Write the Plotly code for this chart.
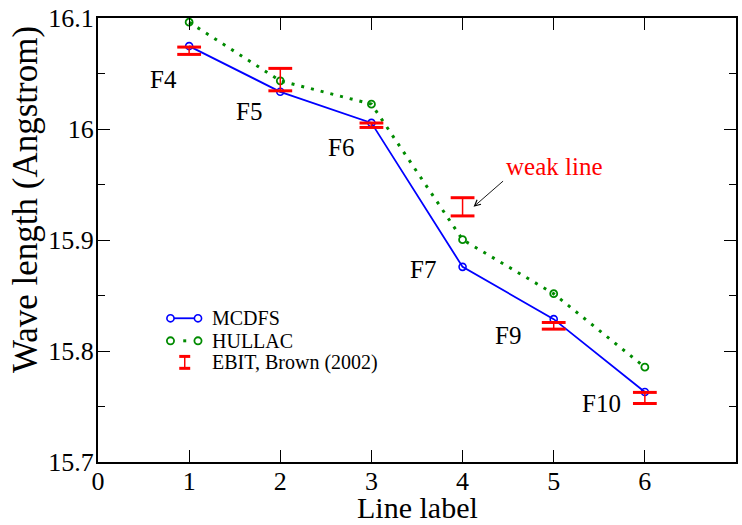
import plotly.graph_objects as go

# ---------------- data ----------------
line_label = [1, 2, 3, 4, 5, 6]
mcdfs = [16.0747, 16.0335, 16.0055, 15.8758, 15.8287, 15.7630]
hullac = [16.0962, 16.0434, 16.0224, 15.9003, 15.8516, 15.7854]
ebit = [16.0705, 16.0445, 16.0034, 15.9299, 15.8227, 15.7577]
ebit_err = [0.0033, 0.0101, 0.0020, 0.0082, 0.0030, 0.0050]
point_names = ["F4", "F5", "F6", "F7", "F9", "F10"]

x_range = [0, 7]
y_range = [15.7, 16.1]

# ---------------- layout helpers ----------------
W, H = 742, 525
ML, MR, MT, MB = 98, 4, 15, 63
PW, PH = W - ML - MR, H - MT - MB
FONT = "Liberation Serif, serif"
BLUE, GREEN, RED = "#0000ff", "#008b00", "#ff0000"


def fx(xp):
    return (xp - ML) / PW


def fy(yp):
    return (H - MB - yp) / PH


fig = go.Figure()

fig.add_trace(go.Scatter(
    x=line_label, y=mcdfs, mode="lines+markers", name="MCDFS",
    line=dict(color=BLUE, width=1.8),
    marker=dict(symbol="circle-open", size=7, color=BLUE, line=dict(width=1.6)),
    cliponaxis=False, showlegend=False))

fig.add_trace(go.Scatter(
    x=line_label, y=hullac, mode="lines+markers", name="HULLAC",
    line=dict(color=GREEN, width=3, dash="3px,7px"),
    marker=dict(symbol="circle-open", size=7, color=GREEN, line=dict(width=1.8)),
    cliponaxis=False, showlegend=False))

# error bar stems
fig.add_trace(go.Scatter(
    x=line_label, y=ebit, mode="markers", name="EBIT, Brown (2002)",
    marker=dict(size=1, color=RED, opacity=0),
    error_y=dict(type="data", array=ebit_err, visible=True, color=RED,
                 thickness=1.5, width=0),
    cliponaxis=False, showlegend=False))
# error bar caps
caps_y = [v + e for v, e in zip(ebit, ebit_err)] + [v - e for v, e in zip(ebit, ebit_err)]
fig.add_trace(go.Scatter(
    x=line_label + line_label, y=caps_y, mode="markers",
    marker=dict(symbol="line-ew", size=17, line=dict(color=RED, width=3)),
    cliponaxis=False, showlegend=False, hoverinfo="skip"))

annotations = []
# point labels, offset from the MCDFS points
label_offsets = [(-26, -33), (-31, -20), (-30, -25), (-40, -3), (-46, -16), (-43, -11)]
for xv, yv, name, (dx, dy) in zip(line_label, mcdfs, point_names, label_offsets):
    annotations.append(dict(x=xv, y=yv, xref="x", yref="y", text=name, showarrow=False,
                            xshift=dx, yshift=dy, xanchor="center", yanchor="middle",
                            font=dict(family=FONT, size=25, color="black")))

# weak line annotation
annotations.append(dict(x=fx(555), y=fy(165), xref="paper", yref="paper", text="weak line",
                        showarrow=False, xanchor="center", yanchor="middle",
                        font=dict(family=FONT, size=25, color=RED)))
annotations.append(dict(x=line_label[3], y=ebit[3], xref="x", yref="y", text="",
                        xshift=11, showarrow=True, ax=31, ay=-27,
                        arrowhead=5, arrowsize=1.3, arrowwidth=0.9, arrowcolor="black"))

# axis titles
annotations.append(dict(x=fx(418), y=fy(508), xref="paper", yref="paper", text="Line label",
                        showarrow=False, xanchor="center", yanchor="middle",
                        font=dict(family=FONT, size=30, color="black")))
annotations.append(dict(x=fx(26), y=fy(198), xref="paper", yref="paper",
                        text="Wave length (Angstrom)", textangle=-90,
                        showarrow=False, xanchor="center", yanchor="middle",
                        font=dict(family=FONT, size=35, color="black")))

# legend
legend_rows = [("MCDFS", 317.3), ("HULLAC", 340.0), ("EBIT, Brown (2002)", 361.7)]
shapes = []
lx0, lx1, lxm = 170.7, 198.3, 185.0
r = 3.6
for text, yy in legend_rows:
    annotations.append(dict(x=fx(210), y=fy(yy), xref="paper", yref="paper", text=text,
                            showarrow=False, xanchor="left", yanchor="middle",
                            font=dict(family=FONT, size=20, color="black")))

yy = legend_rows[0][1]
shapes.append(dict(type="line", xref="paper", yref="paper", x0=fx(lx0), x1=fx(lx1),
                   y0=fy(yy), y1=fy(yy), line=dict(color=BLUE, width=1.8)))
for cx in (lx0, lx1):
    shapes.append(dict(type="circle", xref="paper", yref="paper", x0=fx(cx - r), x1=fx(cx + r),
                       y0=fy(yy + r), y1=fy(yy - r), fillcolor="white",
                       line=dict(color=BLUE, width=1.6)))
yy = legend_rows[1][1]
for cx in (lx0, lx1):
    shapes.append(dict(type="circle", xref="paper", yref="paper", x0=fx(cx - r), x1=fx(cx + r),
                       y0=fy(yy + r), y1=fy(yy - r), fillcolor="white",
                       line=dict(color=GREEN, width=1.8)))
shapes.append(dict(type="rect", xref="paper", yref="paper", x0=fx(lxm - 1.5), x1=fx(lxm + 1.5),
                   y0=fy(yy + 1.5), y1=fy(yy - 1.5), fillcolor=GREEN, line=dict(width=0)))
yy = legend_rows[2][1]
shapes.append(dict(type="line", xref="paper", yref="paper", x0=fx(lxm), x1=fx(lxm),
                   y0=fy(yy - 6), y1=fy(yy + 6), line=dict(color=RED, width=1.5)))
for dy in (-6, 6):
    shapes.append(dict(type="line", xref="paper", yref="paper", x0=fx(lxm - 5.5), x1=fx(lxm + 5.5),
                       y0=fy(yy + dy), y1=fy(yy + dy), line=dict(color=RED, width=3)))

axis_common = dict(showgrid=False, zeroline=False, showline=True, linecolor="black", linewidth=2,
                   mirror="ticks", ticks="inside", ticklen=12, tickwidth=1, tickcolor="black",
                   tickfont=dict(family=FONT, size=26, color="black"))

fig.update_layout(
    width=W, height=H,
    margin=dict(l=ML, r=MR, t=MT, b=MB),
    paper_bgcolor="white", plot_bgcolor="white",
    font=dict(family=FONT),
    xaxis=dict(range=x_range, tickmode="linear", tick0=0, dtick=1, ticklabelstandoff=-5,
               **axis_common),
    yaxis=dict(range=y_range, tickmode="linear", tick0=15.7, dtick=0.1, ticklabelstandoff=-3,
               minor=dict(dtick=0.05, ticks="inside", ticklen=7, tickwidth=1, tickcolor="black"),
               **axis_common),
    annotations=annotations, shapes=shapes, showlegend=False,
)

fig.write_html("out.html")
